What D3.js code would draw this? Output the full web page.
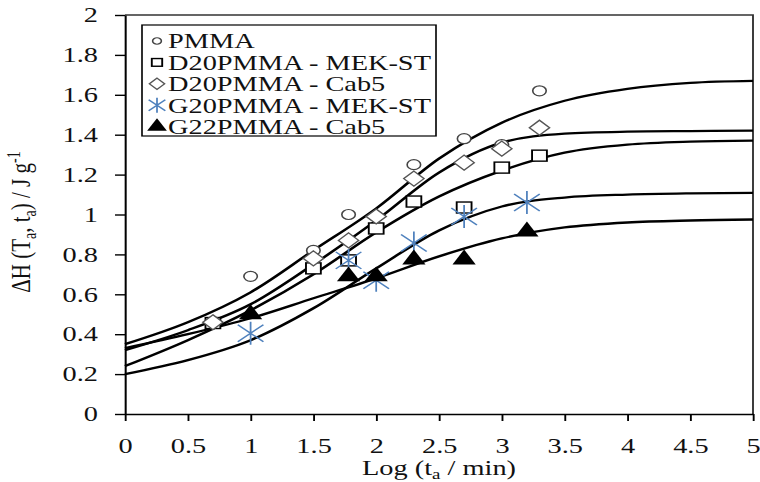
<!DOCTYPE html>
<html>
<head>
<meta charset="utf-8">
<script src="https://cdn.jsdelivr.net/npm/d3@7"></script>
<style>
  body { margin: 0; background: #fff; }
  svg { display: block; }
  text { font-family: "Liberation Serif", "Times New Roman", serif; fill: #111; }
</style>
</head>
<body>
<svg id="chart" width="760" height="482"></svg>
<script>
// ---- tick labels ----
const xTicks = [0, 0.5, 1, 1.5, 2, 2.5, 3, 3.5, 4, 4.5, 5];
const yTicks = [0, 0.2, 0.4, 0.6, 0.8, 1, 1.2, 1.4, 1.6, 1.8, 2];

// ---- series names (legend order) ----
const seriesNames = ["PMMA", "D20PMMA - MEK-ST", "D20PMMA - Cab5", "G20PMMA - MEK-ST", "G22PMMA - Cab5"];

// ---- measured points: log(ta/min) and enthalpy recovery (J/g) ----
const pmmaX = [1, 1.5, 1.78, 2, 2.3, 2.7, 3, 3.3];
const pmmaY = [0.69, 0.82, 1.0, 0.99, 1.25, 1.38, 1.35, 1.62];
const d20MekX = [0.7, 1.5, 1.78, 2, 2.3, 2.7, 3, 3.3];
const d20MekY = [0.456, 0.73, 0.77, 0.93, 1.065, 1.035, 1.235, 1.295];
const d20CabX = [0.7, 1.5, 1.78, 2, 2.3, 2.7, 3, 3.3];
const d20CabY = [0.46, 0.78, 0.87, 0.99, 1.18, 1.26, 1.33, 1.435];
const g20MekX = [1, 1.78, 2, 2.3, 2.7, 3.2];
const g20MekY = [0.405, 0.77, 0.67, 0.857, 0.99, 1.06];
const g22CabX = [1, 1.78, 2, 2.3, 2.7, 3.2];
const g22CabY = [0.50, 0.69, 0.69, 0.775, 0.775, 0.915];

// ---- fitted curves, sampled along log time ----
const fitX = [0, 0.5, 1, 1.5, 2, 2.5, 3, 3.5, 4, 4.5, 5];
const fitPmma   = [0.35, 0.46, 0.61, 0.82, 1.03, 1.28, 1.46, 1.57, 1.63, 1.66, 1.67];
const fitD20Mek = [0.24, 0.37, 0.52, 0.70, 0.91, 1.09, 1.22, 1.31, 1.35, 1.365, 1.37];
const fitD20Cab = [0.32, 0.42, 0.55, 0.75, 0.97, 1.21, 1.36, 1.405, 1.415, 1.418, 1.42];
const fitG20Mek = [0.20, 0.27, 0.37, 0.53, 0.73, 0.92, 1.04, 1.085, 1.10, 1.106, 1.108];
const fitG22Cab = [0.33, 0.40, 0.48, 0.58, 0.68, 0.79, 0.88, 0.935, 0.96, 0.97, 0.975];

// ---- drawing ----
const SX = 1.35;                 // horizontal stretch of the whole figure
const W = 760, H = 482;
const plot = { left: 125 / SX, right: 753 / SX, top: 15, bottom: 414 };

const svg = d3.select("#chart");
const root = svg.append("g").attr("transform", `scale(${SX},1)`);

const x = d3.scaleLinear().domain([0, 5]).range([plot.left, plot.right]);
const y = d3.scaleLinear().domain([0, 2]).range([plot.bottom, plot.top]);
const fmt = d => String(+d.toFixed(1));

// plot frame (top and right edges)
root.append("path")
  .attr("d", `M${plot.left},${plot.top}H${plot.right}V${plot.bottom}`)
  .attr("fill", "none").attr("stroke", "#333").attr("stroke-width", 1.4);

// axes
const xAxis = root.append("g")
  .attr("transform", `translate(0,${plot.bottom})`)
  .call(d3.axisBottom(x).tickValues(xTicks).tickFormat(fmt).tickSize(7).tickPadding(17).tickSizeOuter(0));
const yAxis = root.append("g")
  .attr("transform", `translate(${plot.left},0)`)
  .call(d3.axisLeft(y).tickValues(yTicks).tickFormat(fmt).tickSize(7.4).tickPadding(12.6).tickSizeOuter(0));
[xAxis, yAxis].forEach(a => {
  a.select(".domain").attr("stroke", "#000").attr("stroke-width", 1.5);
  a.selectAll(".tick line").attr("stroke", "#000").attr("stroke-width", 1.4);
  a.selectAll(".tick text").attr("font-size", 21).attr("fill", "#222")
    .style("font-family", '"Liberation Serif", serif');
});

// axis titles
const xt = root.append("text")
  .attr("x", (plot.left + plot.right) / 2).attr("y", 475)
  .attr("text-anchor", "middle").attr("font-size", 21);
xt.append("tspan").text("Log (t");
xt.append("tspan").attr("font-size", 14).attr("baseline-shift", "-4").text("a");
xt.append("tspan").text(" / min)");

const yt = root.append("text")
  .attr("transform", `translate(${30 / SX},222) rotate(-90)`)
  .attr("text-anchor", "middle").attr("font-size", 21);
yt.append("tspan").text("ΔH (T");
yt.append("tspan").attr("font-size", 14).attr("baseline-shift", "-4").text("a");
yt.append("tspan").text(", t");
yt.append("tspan").attr("font-size", 14).attr("baseline-shift", "-4").text("a");
yt.append("tspan").text(") / J g");
yt.append("tspan").attr("font-size", 14).attr("baseline-shift", "8").text("-1");

// fitted curves
const line = d3.line().x(d => x(d[0])).y(d => y(d[1])).curve(d3.curveMonotoneX);
[fitPmma, fitD20Cab, fitD20Mek, fitG20Mek, fitG22Cab].forEach(vals => {
  root.append("path")
    .datum(fitX.map((v, i) => [v, vals[i]]))
    .attr("d", line)
    .attr("fill", "none").attr("stroke", "#000").attr("stroke-width", 2.3);
});

// marker shapes (drawn in unstretched units)
function marker(g, shape, k) {
  if (shape === "circle") {
    g.append("circle").attr("r", 5 * k).attr("fill", "#fff").attr("stroke", "#444").attr("stroke-width", 1.2);
  } else if (shape === "square") {
    const s = 11 * k;
    g.append("rect").attr("x", -s / 2).attr("y", -s / 2).attr("width", s).attr("height", s)
      .attr("fill", "#fff").attr("stroke", "#000").attr("stroke-width", 1.4);
  } else if (shape === "diamond") {
    const a = 7.5 * k;
    g.append("path").attr("d", `M0,${-a}L${a},0L0,${a}L${-a},0Z`)
      .attr("fill", "#fff").attr("stroke", "#555").attr("stroke-width", 1.2);
  } else if (shape === "star") {
    const v = 11.5 * k, dx = 9.5 * k, dy = 8.5 * k;
    g.append("path").attr("d", `M0,${-v}V${v}M${-dx},${-dy}L${dx},${dy}M${-dx},${dy}L${dx},${-dy}`)
      .attr("fill", "none").attr("stroke", "#4f81bd").attr("stroke-width", 1.3);
  } else if (shape === "triangle") {
    const h = 8.6 * k;
    g.append("path").attr("d", `M0,${-h * 1.15}L${h},${h * 0.58}L${-h},${h * 0.58}Z`).attr("fill", "#000");
  }
}

const series = [
  { name: seriesNames[0], shape: "circle",   xs: pmmaX,   ys: pmmaY },
  { name: seriesNames[1], shape: "square",   xs: d20MekX, ys: d20MekY },
  { name: seriesNames[2], shape: "diamond",  xs: d20CabX, ys: d20CabY },
  { name: seriesNames[3], shape: "star",     xs: g20MekX, ys: g20MekY },
  { name: seriesNames[4], shape: "triangle", xs: g22CabX, ys: g22CabY }
];

series.forEach(s => {
  s.xs.forEach((xv, i) => {
    const g = root.append("g").attr("transform", `translate(${x(xv)},${y(s.ys[i])})`);
    marker(g, s.shape, 1);
  });
});

// legend
const lg = root.append("g");
lg.append("rect")
  .attr("x", 142 / SX).attr("y", 25).attr("width", (436 - 142) / SX).attr("height", 111)
  .attr("fill", "#fff").attr("stroke", "#000").attr("stroke-width", 1.2);
const legendScale = { circle: 0.65, square: 0.7, diamond: 0.75, star: 0.65, triangle: 0.85 };
series.forEach((s, i) => {
  const cy = 41 + i * 21.4;
  const g = lg.append("g").attr("transform", `translate(${157 / SX},${cy})`);
  marker(g, s.shape, legendScale[s.shape]);
  lg.append("text").attr("x", 168 / SX).attr("y", cy).attr("dy", "0.35em")
    .attr("font-size", 21).text(s.name);
});
</script>
</body>
</html>
